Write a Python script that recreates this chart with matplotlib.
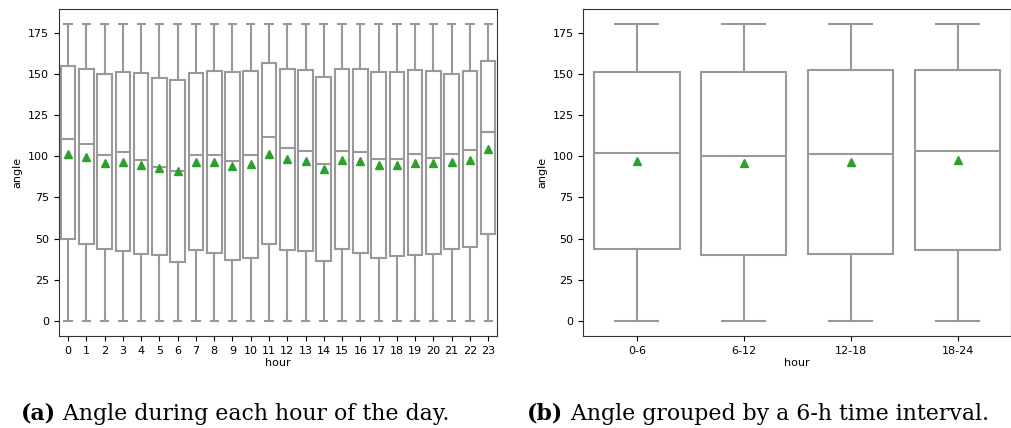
import matplotlib.pyplot as plt

# box statistics per hour
hours = [str(h) for h in range(24)]
hour_q1 = [49.7, 46.9, 43.8, 42.8, 41.0, 40.0, 35.8, 43.0, 41.6, 37.0, 38.4, 46.5,
           43.2, 42.6, 36.2, 43.8, 41.4, 38.2, 39.2, 40.4, 41.0, 43.6, 45.0, 53.1]
hour_med = [110.7, 107.3, 101.0, 102.6, 97.4, 93.3, 91.1, 100.6, 100.6, 96.8, 100.6, 111.7,
            105.2, 103.2, 95.0, 103.4, 102.4, 98.2, 98.4, 101.4, 98.8, 101.2, 103.8, 114.7]
hour_q3 = [154.5, 152.7, 149.7, 151.3, 150.3, 147.3, 146.3, 150.5, 151.5, 151.1, 151.5, 156.6,
           153.1, 152.5, 148.3, 152.9, 153.1, 151.3, 151.3, 152.3, 151.7, 150.1, 151.7, 157.6]
hour_mean = [101.2, 99.6, 96.0, 96.5, 94.7, 93.1, 91.0, 96.4, 96.2, 93.9, 95.0, 101.4,
             98.2, 97.2, 92.3, 98.0, 97.2, 94.5, 94.7, 96.0, 95.6, 96.4, 98.0, 104.2]

# box statistics per 6-h interval
intervals = ['0-6', '6-12', '12-18', '18-24']
int_q1 = [44.0, 40.0, 40.6, 43.4]
int_med = [102.2, 100.2, 101.4, 103.2]
int_q3 = [151.3, 151.3, 152.1, 152.3]
int_mean = [97.0, 96.0, 96.4, 97.6]

whis_lo = 0
whis_hi = 180

line_col = '#999999'
mean_col = '#2ca02c'


def make_stats(labels, q1, med, q3, mean):
    stats = []
    for i in range(len(labels)):
        stats.append({'label': labels[i], 'q1': q1[i], 'med': med[i], 'q3': q3[i],
                      'mean': mean[i], 'whislo': whis_lo, 'whishi': whis_hi, 'fliers': []})
    return stats


def draw(ax, labels, q1, med, q3, mean):
    stats = make_stats(labels, q1, med, q3, mean)
    lp = dict(color=line_col, linewidth=1.5)
    ax.bxp(stats, positions=range(len(labels)), widths=0.8, showmeans=True,
           patch_artist=True, showfliers=False,
           boxprops=dict(facecolor='white', edgecolor=line_col, linewidth=1.5),
           medianprops=lp, whiskerprops=lp, capprops=lp,
           meanprops=dict(marker='^', markerfacecolor=mean_col, markeredgecolor=mean_col,
                          markersize=6))
    ax.set_xlim(-0.5, len(labels) - 0.5)
    ax.set_ylim(-9, 189)
    ax.set_xlabel('hour', fontsize=8, labelpad=2)
    ax.set_ylabel('angle', fontsize=8)
    ax.tick_params(labelsize=8)
    ax.set_yticks([0, 25, 50, 75, 100, 125, 150, 175])
    for s in ax.spines.values():
        s.set_color('#333333')


fig = plt.figure(figsize=(10.12, 4.28), dpi=100)
ax1 = fig.add_axes([0.0583, 0.215, 0.4331, 0.763])
ax2 = fig.add_axes([0.5764, 0.215, 0.4226, 0.763])

draw(ax1, hours, hour_q1, hour_med, hour_q3, hour_mean)
draw(ax2, intervals, int_q1, int_med, int_q3, int_mean)

# captions under each panel
cap_font = 'DejaVu Serif'
cap_size = 15.8
ta = fig.text(0.021, 0.019, '(a)', fontsize=cap_size, fontweight='bold', family=cap_font,
              va='baseline')
plt.annotate(' Angle during each hour of the day.', xy=(1, 0), xycoords=ta, va='bottom',
             fontsize=cap_size, family=cap_font)
tb = fig.text(0.521, 0.019, '(b)', fontsize=cap_size, fontweight='bold', family=cap_font,
              va='baseline')
plt.annotate(' Angle grouped by a 6-h time interval.', xy=(1, 0), xycoords=tb, va='bottom',
             fontsize=cap_size, family=cap_font)

fig.savefig('out.png', dpi=100)
